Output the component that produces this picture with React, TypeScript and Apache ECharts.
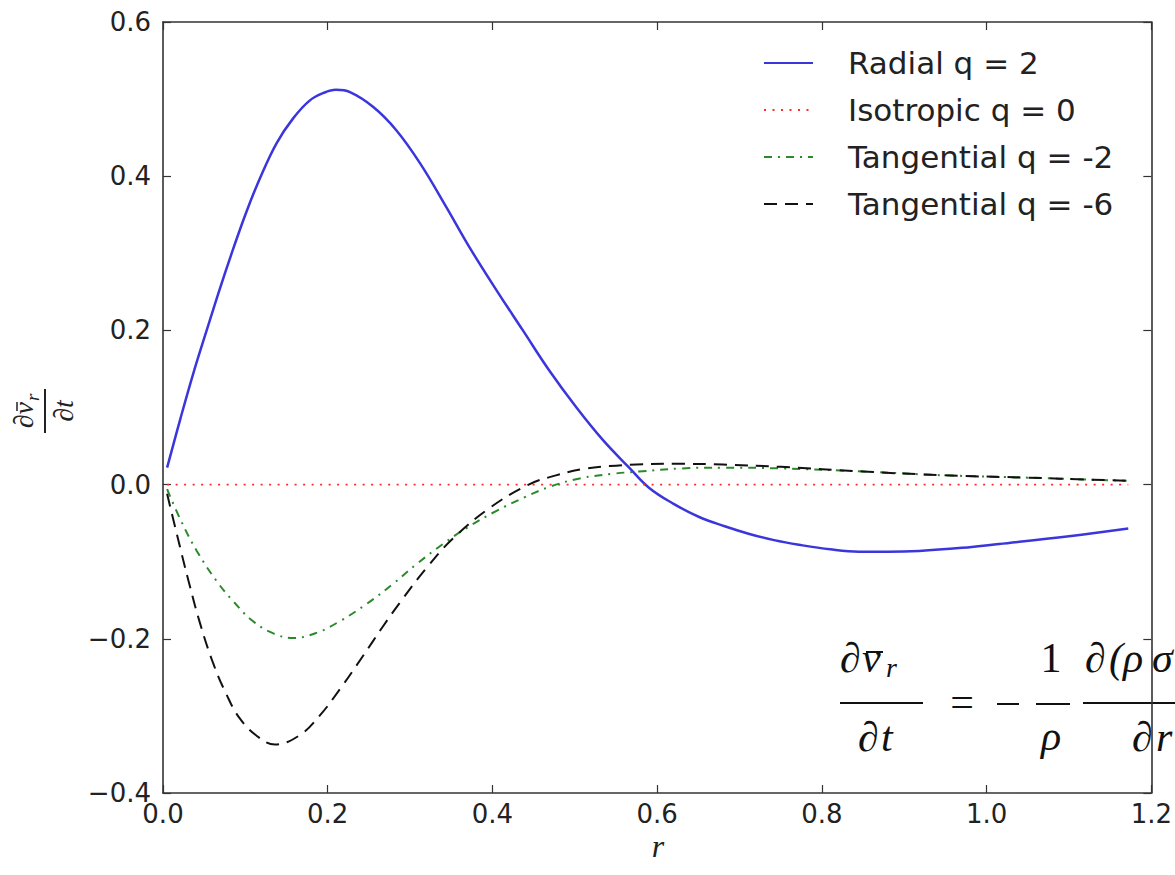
import React, { useEffect, useRef } from "react";
import * as echarts from "echarts";

// Radial acceleration profiles for different anisotropy parameters q
const seriesNames = ["Radial q = 2", "Isotropic q = 0", "Tangential q = -2", "Tangential q = -6"];

const rRadial = [0.005, 0.021, 0.037, 0.053, 0.069, 0.085, 0.101, 0.118, 0.138, 0.158, 0.178, 0.195, 0.21, 0.227, 0.255, 0.283, 0.312, 0.344, 0.372, 0.405, 0.437, 0.469, 0.502, 0.534, 0.566, 0.59, 0.62, 0.651, 0.682, 0.712, 0.742, 0.772, 0.81, 0.845, 0.88, 0.918, 0.97, 1.015, 1.1, 1.172];
const vRadial = [0.022, 0.085, 0.145, 0.2, 0.254, 0.305, 0.353, 0.398, 0.443, 0.475, 0.498, 0.508, 0.512, 0.509, 0.49, 0.46, 0.417, 0.36, 0.308, 0.252, 0.2, 0.148, 0.1, 0.058, 0.022, -0.004, -0.025, -0.042, -0.054, -0.064, -0.072, -0.078, -0.084, -0.087, -0.087, -0.086, -0.082, -0.077, -0.067, -0.057];

const rIso = [0.005, 1.172];
const vIso = [0, 0];

const rTan2 = [0.005, 0.021, 0.041, 0.065, 0.085, 0.109, 0.134, 0.158, 0.187, 0.215, 0.247, 0.279, 0.308, 0.34, 0.369, 0.405, 0.44, 0.469, 0.506, 0.546, 0.578, 0.63, 0.68, 0.75, 0.85, 0.95, 1.05, 1.17];
const vTan2 = [-0.006, -0.045, -0.086, -0.125, -0.151, -0.177, -0.193, -0.199, -0.192, -0.177, -0.155, -0.129, -0.103, -0.077, -0.056, -0.034, -0.016, -0.003, 0.008, 0.014, 0.017, 0.021, 0.022, 0.021, 0.017, 0.012, 0.009, 0.005];

const rTan6 = [0.005, 0.017, 0.031, 0.045, 0.061, 0.077, 0.093, 0.114, 0.136, 0.166, 0.19, 0.215, 0.243, 0.267, 0.287, 0.32, 0.352, 0.397, 0.444, 0.477, 0.509, 0.542, 0.575, 0.62, 0.68, 0.75, 0.85, 0.95, 1.05, 1.17];
const vTan6 = [-0.012, -0.065, -0.125, -0.18, -0.232, -0.272, -0.303, -0.326, -0.337, -0.325, -0.3, -0.265, -0.222, -0.184, -0.154, -0.108, -0.07, -0.03, 0.0, 0.012, 0.02, 0.024, 0.026, 0.027, 0.026, 0.023, 0.017, 0.012, 0.009, 0.005];

const xTicks = { min: 0, max: 1.2, interval: 0.2 };
const yTicks = { min: -0.4, max: 0.6, interval: 0.2 };

const zip = (xs: number[], ys: number[]) => xs.map((x, i) => [x, ys[i]]);

const fmt = (v: number) => {
  const s = (Math.abs(v) < 1e-9 ? 0 : v).toFixed(1);
  return s.replace("-", "\u2212");
};

const AXIS_COLOR = "#333";
const SANS = "'DejaVu Sans'";
const SERIF = "'Liberation Serif'";

function axisCommon(show: boolean) {
  return {
    type: "value" as const,
    axisLine: { show: true, onZero: false, lineStyle: { color: AXIS_COLOR, width: 1.6 } },
    axisTick: { show: true, inside: true, length: 8, lineStyle: { color: AXIS_COLOR, width: 1.2 } },
    splitLine: { show: false },
    axisLabel: show
      ? { show: true, fontSize: 26, fontFamily: SANS, color: "#222", formatter: fmt }
      : { show: false },
  };
}

const eqFont = (size: number, italic: boolean) => `${italic ? "italic " : ""}${size}px ${SERIF}`;

function txt(x: number, y: number, text: string, size: number, italic: boolean, align = "left", fill = "#111") {
  return {
    type: "text",
    x,
    y,
    style: { text, font: eqFont(size, italic), fill, align, verticalAlign: "middle" },
  };
}

function bar(x1: number, x2: number, y: number, w = 2, stroke = "#111") {
  return { type: "line", shape: { x1, y1: y, x2, y2: y }, style: { stroke, lineWidth: w } };
}

export default function App() {
  const ref = useRef<HTMLDivElement>(null);

  useEffect(() => {
    if (!ref.current) return;
    const chart = echarts.init(ref.current, null, { renderer: "svg" });

    chart.setOption({
      animation: false,
      backgroundColor: "#fff",
      grid: { left: 163, right: 22, top: 22, bottom: 82, containLabel: false },
      xAxis: [
        { ...axisCommon(true), ...xTicks, position: "bottom", axisLabel: { ...axisCommon(true).axisLabel, margin: 8 } },
        { ...axisCommon(false), ...xTicks, position: "top" },
      ],
      yAxis: [
        { ...axisCommon(true), ...yTicks, position: "left", axisLabel: { ...axisCommon(true).axisLabel, margin: 12 } },
        { ...axisCommon(false), ...yTicks, position: "right" },
      ],
      legend: {
        orient: "vertical",
        left: 758,
        top: 40,
        itemWidth: 49,
        itemHeight: 14,
        itemGap: 11,
        itemStyle: { opacity: 0 },
        textStyle: { fontSize: 31, fontFamily: SANS, color: "#222", lineHeight: 36, padding: [0, 0, 0, 30] },
        data: seriesNames,
      },
      series: [
        {
          name: seriesNames[0], type: "line", symbol: "none", smooth: 0.4,
          data: zip(rRadial, vRadial),
          lineStyle: { color: "#3b36dc", width: 2.5, type: "solid" },
          itemStyle: { color: "#3b36dc" },
        },
        {
          name: seriesNames[1], type: "line", symbol: "none",
          data: zip(rIso, vIso),
          lineStyle: { color: "#ff2a2a", width: 1.6, type: [2, 6.5] },
          itemStyle: { color: "#ff2a2a" },
        },
        {
          name: seriesNames[2], type: "line", symbol: "none", smooth: 0.4,
          data: zip(rTan2, vTan2),
          lineStyle: { color: "#2a8a2a", width: 2, type: [8, 6, 2, 6] },
          itemStyle: { color: "#2a8a2a" },
        },
        {
          name: seriesNames[3], type: "line", symbol: "none", smooth: 0.4,
          data: zip(rTan6, vTan6),
          lineStyle: { color: "#111", width: 2, type: [13, 8] },
          itemStyle: { color: "#111" },
        },
      ],
      graphic: [
        // y-axis label: rotated fraction d(v_r)/dt
        {
          type: "group",
          x: 45,
          y: 411,
          rotation: Math.PI / 2,
          children: [
            txt(9, -21.5, "\u2202v", 28, true, "right", "#222"),
            bar(0, 9, -28, 1.5, "#222"),
            txt(10, -13, "r", 19, true, "left", "#222"),
            bar(-22, 22, 0, 2, "#222"),
            txt(0, 18.5, "\u2202t", 28, true, "center", "#222"),
          ],
        },
        // x-axis label
        {
          type: "text", x: 658, y: 846,
          style: { text: "r", font: eqFont(32, true), fill: "#222", align: "center", verticalAlign: "middle" },
        },
        // momentum equation inset
        {
          type: "group",
          children: [
            { type: "rect", shape: { x: 830, y: 605, width: 345, height: 173 }, style: { fill: "#fff" } },
            txt(840, 657.7, "\u2202", 42, true),
            txt(862, 657.7, "v", 42, true),
            bar(866, 883, 652, 2),
            txt(886, 667.5, "r", 28, true),
            bar(840, 923, 703, 2),
            txt(858, 736.7, "\u2202", 42, true),
            txt(881, 736.7, "t", 42, true),
            txt(962, 702, "=", 42, false, "center"),
            bar(997, 1019, 704, 2),
            txt(1051, 657.7, "1", 42, false, "center"),
            bar(1036, 1070, 704, 2),
            txt(1051, 735.7, "\u03c1", 42, true, "center"),
            txt(1085, 657.7, "\u2202", 42, true),
            txt(1109, 657.7, "(", 42, true),
            txt(1123, 657.7, "\u03c1", 42, true),
            txt(1152, 657.7, "\u03c3", 42, true),
            bar(1083, 1175, 703, 2),
            txt(1132, 736.7, "\u2202", 42, true),
            txt(1156, 736.7, "r", 42, true),
          ],
        },
      ],
    });

    return () => chart.dispose();
  }, []);

  return (
    <div
      ref={ref}
      style={{ position: "absolute", left: 0, top: 0, width: 1175, height: 875, background: "#fff" }}
    />
  );
}
